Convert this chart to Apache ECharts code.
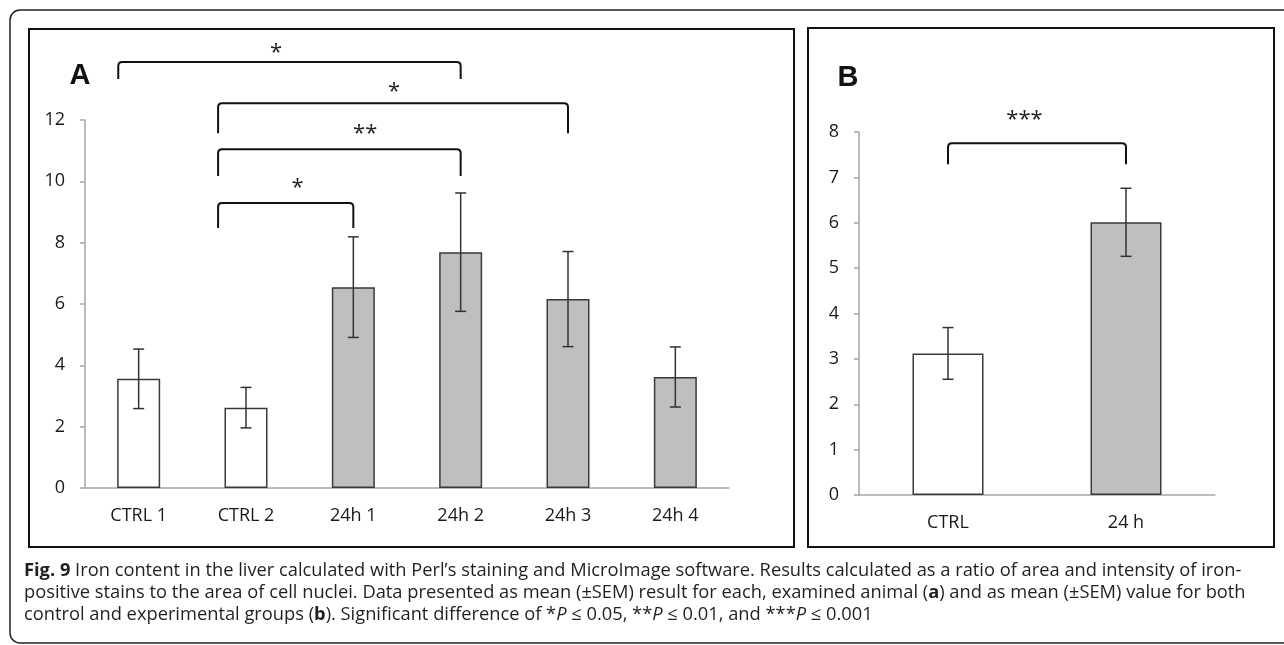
<!DOCTYPE html>
<html>
<head>
<meta charset="utf-8">
<script src="https://cdn.jsdelivr.net/npm/echarts@6/dist/echarts.min.js"></script>
<style>
  html, body { margin: 0; padding: 0; background: #fff; }
  #main { width: 1284px; height: 645px; }
</style>
</head>
<body>
<div id="main"></div>
<script>
// panel A: each animal
const catsA = ["CTRL 1", "CTRL 2", "24h 1", "24h 2", "24h 3", "24h 4"];
const meanA = [3.56, 2.62, 6.55, 7.69, 6.16, 3.62];
const semA = [0.97, 0.66, 1.64, 1.93, 1.55, 0.98];
const groupA = ["ctrl", "ctrl", "exp", "exp", "exp", "exp"];
const ticksA = [0, 2, 4, 6, 8, 10, 12];

// panel B: group means
const catsB = ["CTRL", "24 h"];
const meanB = [3.12, 6.01];
const semB = [0.57, 0.75];
const groupB = ["ctrl", "exp"];
const ticksB = [0, 1, 2, 3, 4, 5, 6, 7, 8];

// significance brackets: [from, to, barY, legY] in category / value units
const bracketsA = [
  [-0.19, 3.0, 13.89, 13.34],
  [0.74, 4.0, 12.55, 11.57],
  [0.74, 3.0, 11.05, 10.17],
  [0.74, 2.0, 9.29, 8.48]
];
const starsA = [[1.28, 14.35, "*"], [2.38, 13.07, "*"], [2.11, 11.7, "**"], [1.48, 9.94, "*"]];
const bracketsB = [[0.0, 1.0, 7.75, 7.29]];
const starsB = [[0.43, 8.39, "***"]];

const fillOf = { ctrl: "#ffffff", exp: "#bfbfbf" };
const axisGrey = "#a6a6a6";
const labelFont = "Open Sans";

let chart = echarts.init(document.getElementById("main"));

function bars(means, groups) {
  return means.map(function(v, i) {
    return { value: v, itemStyle: { color: fillOf[groups[i]] } };
  });
}

function errData(means, sems) {
  return means.map(function(v, i) {
    return [i, v - sems[i], v + sems[i]];
  });
}

function renderErr(params, api) {
  const lo = api.coord([api.value(0), api.value(1)]);
  const hi = api.coord([api.value(0), api.value(2)]);
  const w = 5.5;
  const st = { stroke: "#333", lineWidth: 1.5 };
  return {
    type: "group",
    children: [
      { type: "line", shape: { x1: lo[0], y1: lo[1], x2: hi[0], y2: hi[1] }, style: st },
      { type: "line", shape: { x1: lo[0] - w, y1: lo[1], x2: lo[0] + w, y2: lo[1] }, style: st },
      { type: "line", shape: { x1: hi[0] - w, y1: hi[1], x2: hi[0] + w, y2: hi[1] }, style: st }
    ]
  };
}

function renderBracket(params, api) {
  const a = api.coord([api.value(0), api.value(2)]);
  const b = api.coord([api.value(1), api.value(2)]);
  const leg = api.coord([api.value(0), api.value(3)])[1];
  const r = 4;
  const d = "M" + a[0] + " " + leg +
    " L" + a[0] + " " + (a[1] + r) +
    " Q" + a[0] + " " + a[1] + " " + (a[0] + r) + " " + a[1] +
    " L" + (b[0] - r) + " " + b[1] +
    " Q" + b[0] + " " + b[1] + " " + b[0] + " " + (b[1] + r) +
    " L" + b[0] + " " + leg;
  return {
    type: "path",
    shape: { pathData: d },
    style: { stroke: "#111", lineWidth: 2, fill: null }
  };
}

const starsText = {
  starsA: starsA.map(function(s) { return s[2]; }),
  starsB: starsB.map(function(s) { return s[2]; })
};

function renderStar(params, api) {
  const p = api.coord([api.value(0), api.value(1)]);
  return {
    type: "text",
    x: p[0],
    y: p[1] + 5,
    style: {
      text: starsText[params.seriesName][params.dataIndex],
      fontFamily: labelFont,
      fontSize: 22,
      fill: "#222",
      align: "center",
      verticalAlign: "middle"
    }
  };
}

function catAxis(cats, grid) {
  return {
    type: "category",
    gridIndex: grid,
    data: cats,
    axisLine: { onZero: false, lineStyle: { color: axisGrey, width: 1.5 } },
    axisTick: { length: 7, lineStyle: { color: axisGrey, width: 1.5 } },
    axisLabel: { color: "#1a1a1a", fontFamily: labelFont, fontSize: 18, margin: 19 }
  };
}

function valAxis(ticks, grid) {
  return {
    type: "value",
    gridIndex: grid,
    min: ticks[0],
    max: ticks[ticks.length - 1],
    interval: ticks[1] - ticks[0],
    axisLine: { show: true, onZero: false, lineStyle: { color: axisGrey, width: 1.5 } },
    axisTick: { show: true, length: 5, lineStyle: { color: axisGrey, width: 1.5 } },
    splitLine: { show: false },
    axisLabel: { color: "#1a1a1a", fontFamily: labelFont, fontSize: 18, margin: 20 }
  };
}

function hiddenX(n, grid) {
  return { type: "value", gridIndex: grid, min: -0.5, max: n - 0.5, show: false };
}

const captionStyle = { fontFamily: labelFont, fontSize: 18.3, lineHeight: 22, fill: "#231f20" };

chart.setOption({
  animation: false,
  grid: [
    { left: 85, top: 120, width: 644, height: 368 },
    { left: 859, top: 132, width: 356, height: 363 }
  ],
  xAxis: [catAxis(catsA, 0), catAxis(catsB, 1), hiddenX(catsA.length, 0), hiddenX(catsB.length, 1)],
  yAxis: [valAxis(ticksA, 0), valAxis(ticksB, 1)],
  graphic: [
    { type: "rect", shape: { x: 10, y: 10, width: 1300, height: 633, r: 10 }, style: { fill: null, stroke: "#222", lineWidth: 1.5 } },
    { type: "rect", shape: { x: 29, y: 29, width: 765, height: 518 }, style: { fill: null, stroke: "#111", lineWidth: 2 } },
    { type: "rect", shape: { x: 808, y: 28, width: 466, height: 519 }, style: { fill: null, stroke: "#111", lineWidth: 2 } },
    { type: "text", x: 80, y: 76, style: { text: "A", fontFamily: "Liberation Sans", fontWeight: "bold", fontSize: 29, fill: "#111", align: "center", verticalAlign: "middle" } },
    { type: "text", x: 848, y: 78, style: { text: "B", fontFamily: "Liberation Sans", fontWeight: "bold", fontSize: 29, fill: "#111", align: "center", verticalAlign: "middle" } },
    {
      type: "text", x: 24, y: 560,
      style: Object.assign({
        text: "{b|Fig. 9} Iron content in the liver calculated with Perl\u2019s staining and MicroImage software. Results calculated as a ratio of area and intensity of iron-\n" +
          "positive stains to the area of cell nuclei. Data presented as mean (\u00B1SEM) result for each, examined animal ({b|a}) and as mean (\u00B1SEM) value for both\n" +
          "control and experimental groups ({b|b}). Significant difference of *{i|P} \u2264 0.05, **{i|P} \u2264 0.01, and ***{i|P} \u2264 0.001",
        rich: {
          b: Object.assign({ fontWeight: "bold" }, captionStyle),
          i: Object.assign({ fontStyle: "italic" }, captionStyle)
        }
      }, captionStyle)
    }
  ],
  series: [
    {
      type: "bar", xAxisIndex: 0, yAxisIndex: 0, barWidth: 43,
      itemStyle: { borderColor: "#3a3a3a", borderWidth: 1.5 },
      data: bars(meanA, groupA)
    },
    {
      type: "bar", xAxisIndex: 1, yAxisIndex: 1, barWidth: 71,
      itemStyle: { borderColor: "#3a3a3a", borderWidth: 1.5 },
      data: bars(meanB, groupB)
    },
    { type: "custom", xAxisIndex: 0, yAxisIndex: 0, renderItem: renderErr, data: errData(meanA, semA), z: 5 },
    { type: "custom", xAxisIndex: 1, yAxisIndex: 1, renderItem: renderErr, data: errData(meanB, semB), z: 5 },
    { type: "custom", xAxisIndex: 2, yAxisIndex: 0, renderItem: renderBracket, data: bracketsA, clip: false, encode: { x: [0, 1], y: [2, 3] } },
    { type: "custom", xAxisIndex: 3, yAxisIndex: 1, renderItem: renderBracket, data: bracketsB, clip: false, encode: { x: [0, 1], y: [2, 3] } },
    { type: "custom", name: "starsA", xAxisIndex: 2, yAxisIndex: 0, renderItem: renderStar, data: starsA.map(function(s) { return [s[0], s[1]]; }), clip: false },
    { type: "custom", name: "starsB", xAxisIndex: 3, yAxisIndex: 1, renderItem: renderStar, data: starsB.map(function(s) { return [s[0], s[1]]; }), clip: false }
  ]
});

window.addEventListener("resize", function() {
  chart.resize();
});
</script>
</body>
</html>
